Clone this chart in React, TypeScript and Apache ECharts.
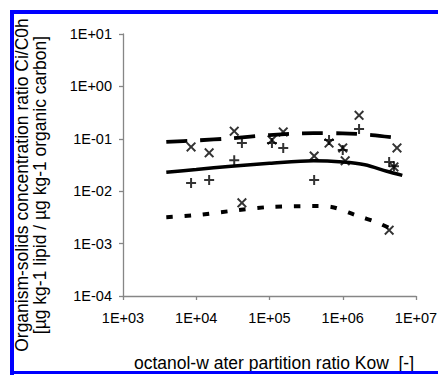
import React, { useEffect, useRef } from "react";
import * as echarts from "echarts";

// Model curves (Kow vs ratio)
const kowDashed = [3.9e3, 1e4, 3e4, 1e5, 4e5, 1e6, 2.5e6, 6.5e6];
const ratioDashed = [0.087, 0.093, 0.102, 0.118, 0.128, 0.127, 0.118, 0.101];

const kowSolid = [3.9e3, 1e4, 3e4, 1e5, 4e5, 1e6, 2e6, 4e6, 6.5e6];
const ratioSolid = [0.023, 0.026, 0.03, 0.034, 0.038, 0.036, 0.032, 0.024, 0.02];

const kowDotted = [3.9e3, 1e4, 3e4, 1e5, 4e5, 7e5, 1.5e6, 3e6, 4.6e6];
const ratioDotted = [0.0032, 0.0035, 0.0042, 0.005, 0.0052, 0.005, 0.0035, 0.0025, 0.0019];

// Measured points
const crossKow = [8.5e3, 1.5e4, 3.3e4, 4.2e4, 1.08e5, 1.54e5, 4.07e5, 6.5e5, 1.0e6, 1.08e6, 1.67e6, 5.5e6, 5.0e6, 4.3e6];
const crossRatio = [0.07, 0.054, 0.14, 0.006, 0.095, 0.135, 0.047, 0.083, 0.067, 0.038, 0.28, 0.067, 0.029, 0.0018];

const plusKow = [8.5e3, 1.5e4, 3.3e4, 4.2e4, 1.08e5, 1.54e5, 4.07e5, 6.5e5, 1.0e6, 1.67e6, 4.3e6, 5.0e6];
const plusRatio = [0.0143, 0.0164, 0.039, 0.083, 0.083, 0.067, 0.0164, 0.095, 0.061, 0.154, 0.036, 0.03];

const xTitle = "octanol-w ater partition ratio Kow  [-]";
const yTitle1 = "Organism-solids concentration ratio Ci/C0h";
const yTitle2 = "[µg kg-1 lipid / µg kg-1 organic carbon]";

const FONT = "'Liberation Sans', Arial, sans-serif";

const zip = (xs: number[], ys: number[]) => xs.map((x, i) => [x, ys[i]]);

const fmt = (v: number) => {
  const e = Math.round(Math.log10(v));
  return "1E" + (e >= 0 ? "+" : "-") + String(Math.abs(e)).padStart(2, "0");
};

const CROSS =
  "path://M0,1.4 L1.4,0 L5,3.6 L8.6,0 L10,1.4 L6.4,5 L10,8.6 L8.6,10 L5,6.4 L1.4,10 L0,8.6 L3.6,5 Z";
const PLUS = "path://M4,0 L6,0 L6,4 L10,4 L10,6 L6,6 L6,10 L4,10 L4,6 L0,6 L0,4 L4,4 Z";

export default function App() {
  const ref = useRef<HTMLDivElement>(null);
  useEffect(() => {
    if (!ref.current) return;
    const chart = echarts.init(ref.current, null, { renderer: "svg" });
    const axisColor = "#868686";
    chart.setOption({
      animation: false,
      grid: { left: 123, top: 34, right: 22, bottom: 79, containLabel: false, outerBoundsMode: "none" },
      xAxis: {
        type: "log",
        logBase: 10,
        min: 1e3,
        max: 1e7,
        axisLine: { show: true, lineStyle: { color: axisColor, width: 1.3 } },
        axisTick: { show: true, inside: false, length: 4, lineStyle: { color: axisColor, width: 1.3 } },
        minorTick: { show: false },
        splitLine: { show: false },
        axisLabel: { formatter: fmt, color: "#000", fontSize: 14.5, fontFamily: FONT, margin: 14 },
      },
      yAxis: {
        type: "log",
        logBase: 10,
        min: 1e-4,
        max: 1e1,
        axisLine: { show: true, lineStyle: { color: axisColor, width: 1.3 } },
        axisTick: { show: true, inside: false, length: 4, lineStyle: { color: axisColor, width: 1.3 } },
        minorTick: { show: false },
        splitLine: { show: false },
        axisLabel: { formatter: fmt, color: "#000", fontSize: 14.5, fontFamily: FONT, margin: 11 },
      },
      series: [
        {
          type: "line",
          data: zip(kowDashed, ratioDashed),
          showSymbol: false,
          symbol: "none",
          smooth: 0.3,
          lineStyle: { color: "#000", width: 3.8, type: [21, 13] },
        },
        {
          type: "line",
          data: zip(kowSolid, ratioSolid),
          showSymbol: false,
          symbol: "none",
          smooth: 0.3,
          lineStyle: { color: "#000", width: 3.5, type: "solid" },
        },
        {
          type: "line",
          data: zip(kowDotted, ratioDotted),
          showSymbol: false,
          symbol: "none",
          smooth: 0.3,
          lineStyle: { color: "#000", width: 4, type: [6.5, 11.8] },
        },
        {
          type: "scatter",
          data: zip(crossKow, crossRatio),
          symbol: CROSS,
          symbolSize: 10,
          itemStyle: { color: "#000" },
        },
        {
          type: "scatter",
          data: zip(plusKow, plusRatio),
          symbol: PLUS,
          symbolSize: 10,
          itemStyle: { color: "#000" },
        },
      ],
      graphic: [
        {
          type: "text",
          x: 274,
          y: 363,
          style: {
            text: xTitle,
            fill: "#000",
            font: `17.5px ${FONT}`,
            textAlign: "center",
            textVerticalAlign: "middle",
          },
        },
        {
          type: "text",
          x: 31,
          y: 185,
          rotation: Math.PI / 2,
          style: {
            text: yTitle1 + "\n" + yTitle2,
            fill: "#000",
            font: `17.5px ${FONT}`,
            lineHeight: 18.5,
            textAlign: "center",
            textVerticalAlign: "middle",
          },
        },
      ],
    });
    return () => chart.dispose();
  }, []);
  return (
    <div style={{ position: "fixed", left: 0, top: 0, width: 438, height: 375, background: "#fff", overflow: "hidden" }}>
      <div ref={ref} style={{ position: "absolute", left: 0, top: 0, width: 438, height: 375 }} />
      <div style={{ position: "absolute", left: 10, top: 10, width: 428, height: 4, background: "#0000ff" }} />
      <div style={{ position: "absolute", left: 10, top: 10, width: 4, height: 365, background: "#0000ff" }} />
      <div style={{ position: "absolute", left: 10, top: 371, width: 428, height: 2.5, background: "#0000ff" }} />
    </div>
  );
}
